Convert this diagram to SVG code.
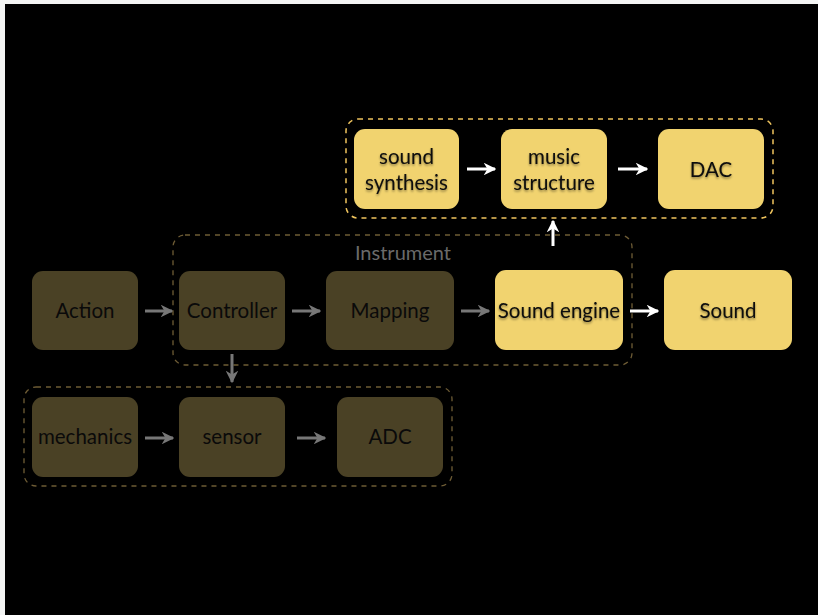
<svg xmlns="http://www.w3.org/2000/svg" width="818" height="615" viewBox="0 0 818 615">
<style>
.bg{fill:#000}
.dim rect{fill:#4a4125}
.lit rect{fill:#f1d36f}
.t{font-family:Lato,"Open Sans","Liberation Sans",sans-serif;font-size:20.5px;fill:#0a0a0a;text-anchor:middle}
.gbox{fill:none;stroke:#6e5c35;stroke-width:1.3;stroke-dasharray:5 5}
.ybox{fill:none;stroke:#efc45e;stroke-width:1.5;stroke-dasharray:5 5}
.ga{stroke:#777;stroke-width:3;fill:none;marker-end:url(#ag)}
.wa{stroke:#fff;stroke-width:3;fill:none;marker-end:url(#aw)}
.lbl{font-family:Lato,"Open Sans","Liberation Sans",sans-serif;font-size:20px;fill:#6a6a6a}
</style>
<defs>
<marker id="ag" viewBox="0 0 10 10" refX="9" refY="5" markerWidth="4.2" markerHeight="4.2" orient="auto" markerUnits="strokeWidth"><path d="M0,0 L10,5 L0,10 L3,5 z" fill="#777"/></marker>
<marker id="aw" viewBox="0 0 10 10" refX="9" refY="5" markerWidth="4.2" markerHeight="4.2" orient="auto" markerUnits="strokeWidth"><path d="M0,0 L10,5 L0,10 L3,5 z" fill="#fff"/></marker>
<filter id="sh" x="-10%" y="-10%" width="120%" height="130%"><feDropShadow dx="0" dy="1.5" stdDeviation="1.2" flood-color="#000" flood-opacity="0.45"/></filter>
</defs>
<rect x="0" y="0" width="818" height="615" fill="#f4f5f4"/>
<rect class="bg" x="5" y="4" width="813" height="611"/>

<g id="groups">
<rect class="gbox" x="173" y="235" width="459" height="130" rx="12"/>
<text class="lbl" x="451" y="260" text-anchor="end">Instrument</text>
<rect class="gbox" x="24" y="387" width="428" height="99" rx="12"/>
<rect class="ybox" x="346" y="119" width="427" height="99" rx="12"/>
</g>

<g id="connectors">
<line class="ga" x1="145" y1="311" x2="172" y2="311"/>
<line class="ga" x1="292" y1="311" x2="320" y2="311"/>
<line class="ga" x1="461" y1="311" x2="489" y2="311"/>
<line class="wa" x1="630" y1="311" x2="658" y2="311"/>
<line class="wa" x1="553" y1="246" x2="553" y2="221"/>
<line class="ga" x1="232" y1="354" x2="232" y2="382"/>
<line class="ga" x1="145" y1="438" x2="173" y2="438"/>
<line class="ga" x1="297" y1="438" x2="325" y2="438"/>
<line class="wa" x1="467" y1="169" x2="495" y2="169"/>
<line class="wa" x1="618" y1="169" x2="647" y2="169"/>
</g>

<g id="action" class="dim"><rect x="32" y="271" width="106" height="79" rx="11"/><text class="t" x="85" y="318">Action</text></g>
<g id="controller" class="dim"><rect x="179" y="271" width="106" height="79" rx="11"/><text class="t" x="232" y="318">Controller</text></g>
<g id="mapping" class="dim"><rect x="326" y="271" width="128" height="79" rx="11"/><text class="t" x="390" y="318">Mapping</text></g>
<g id="sound-engine" class="lit"><rect x="495" y="270" width="128" height="80" rx="11"/><text class="t" x="559" y="318" filter="url(#sh)">Sound engine</text></g>
<g id="sound" class="lit"><rect x="664" y="270" width="128" height="80" rx="11"/><text class="t" x="728" y="318" filter="url(#sh)">Sound</text></g>

<g id="mechanics" class="dim"><rect x="32" y="397" width="106" height="80" rx="11"/><text class="t" x="85" y="444">mechanics</text></g>
<g id="sensor" class="dim"><rect x="179" y="397" width="106" height="80" rx="11"/><text class="t" x="232" y="444">sensor</text></g>
<g id="adc" class="dim"><rect x="337" y="397" width="106" height="80" rx="11"/><text class="t" x="390" y="444">ADC</text></g>

<g id="sound-synthesis" class="lit"><rect x="354" y="129" width="105" height="80" rx="11"/><text class="t" x="406.5" y="164" filter="url(#sh)">sound</text><text class="t" x="406.5" y="190" filter="url(#sh)">synthesis</text></g>
<g id="music-structure" class="lit"><rect x="501" y="129" width="106" height="80" rx="11"/><text class="t" x="554" y="164" filter="url(#sh)">music</text><text class="t" x="554" y="190" filter="url(#sh)">structure</text></g>
<g id="dac" class="lit"><rect x="658" y="129" width="106" height="80" rx="11"/><text class="t" x="711" y="177" filter="url(#sh)">DAC</text></g>
</svg>
